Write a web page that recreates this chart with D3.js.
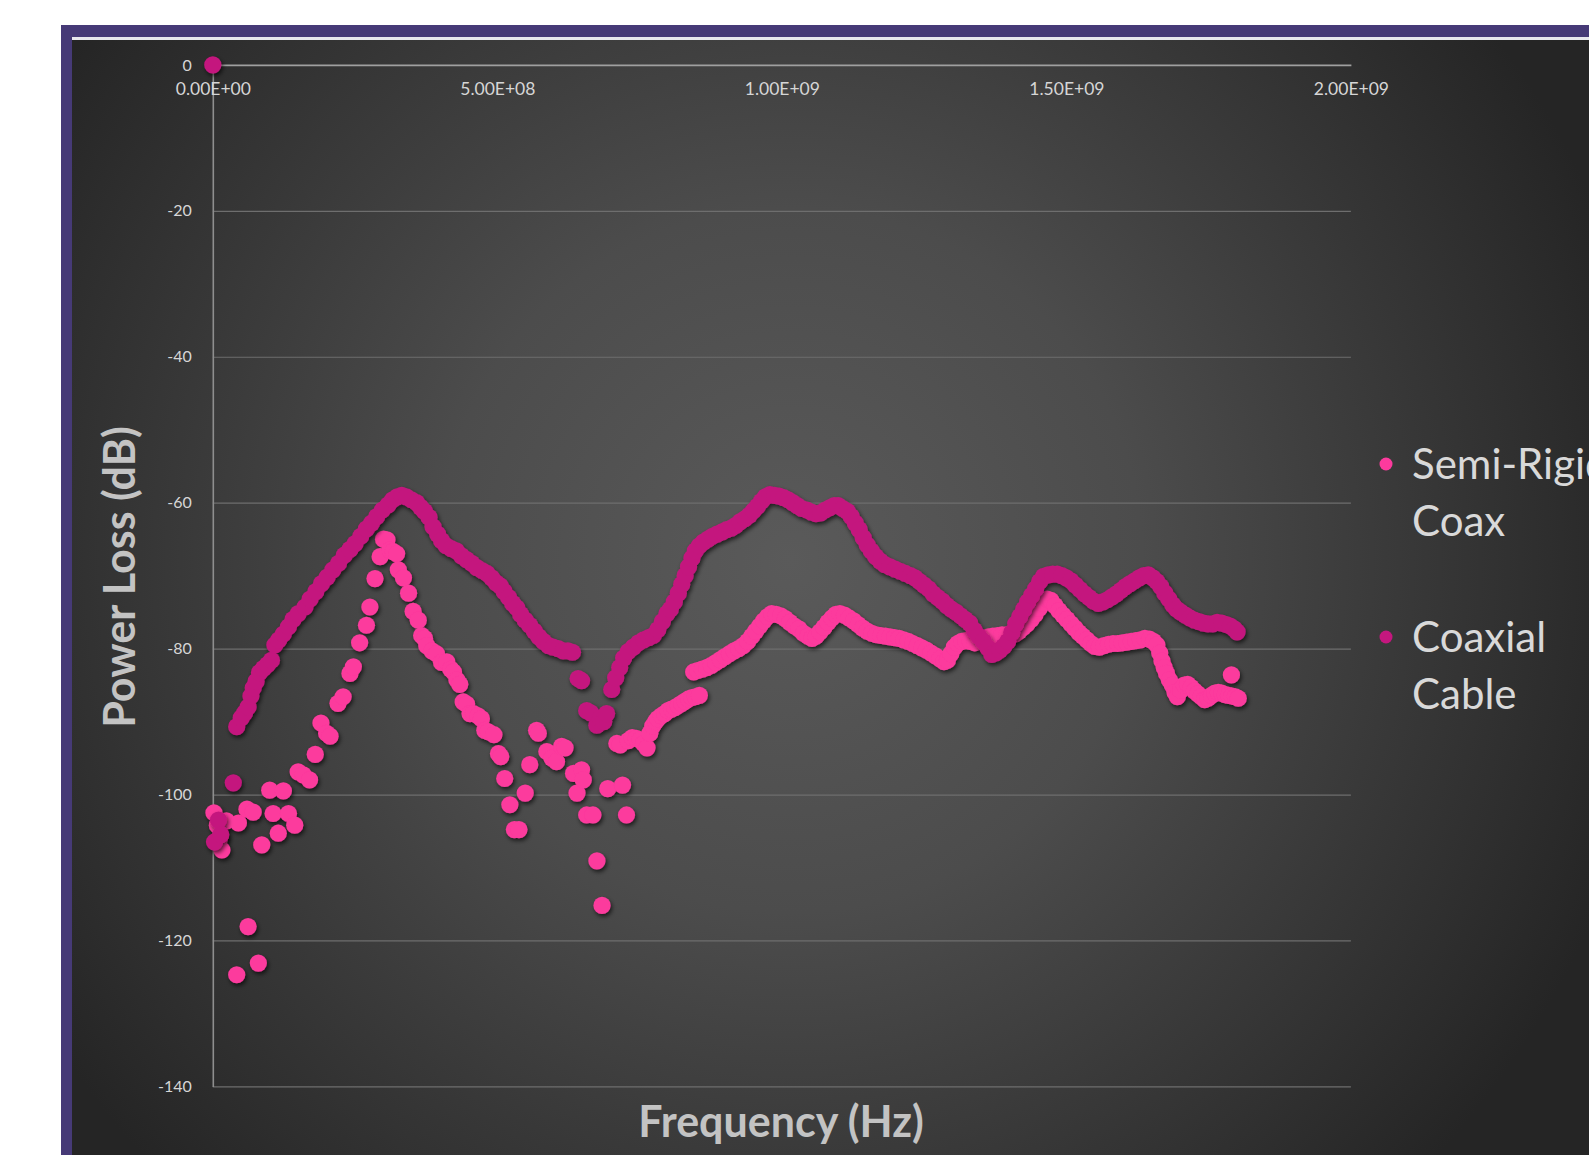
<!DOCTYPE html>
<html>
<head>
<meta charset="utf-8">
<script src="https://cdn.jsdelivr.net/npm/d3@7"></script>
<style>
  html, body { margin: 0; padding: 0; background: #ffffff; overflow: hidden; }
  svg { display: block; }
  .tick text { font-family: Lato, "Open Sans", sans-serif; }
</style>
</head>
<body>
<div id="chart"></div>
<script>
// Semi-Rigid Coax: [frequency MHz, power loss dB]
const semiRigid = [
  [2,-102.5],[8,-104.2],[12,-106],[16,-107.6],[24,-103.6],[45,-103.9],[60,-102.0],[71,-102.4],
  [42,-124.7],[62,-118.1],[80,-123.1],[86,-106.9],[100,-99.4],[106,-102.6],[115,-105.3],[124,-99.5],
  [133,-102.6],[144,-104.2],[150,-96.9],[159,-97.3],[170,-98.0],[180,-94.5],[190,-90.2],[200,-91.6],
  [206,-92.0],[220,-87.5],[229,-86.6],[241,-83.4],[247,-82.5],[258,-79.2],[270,-76.8],[276,-74.3],
  [285,-70.4],[294,-67.4],[300,-65.0],[306,-65.1],[311,-66.5],[317,-66.7],[323,-67.0],[326,-69.2],
  [335,-70.3],[344,-72.4],[352,-74.9],[361,-76.1],[367,-78.2],[372,-78.6],[376,-79.6],[385,-80.3],
  [393,-80.7],[402,-81.9],[411,-81.8],[418,-82.8],[423,-83.2],[429,-84.3],[434,-84.9],[440,-87.3],
  [446,-87.6],[452,-88.9],[458,-88.9],[466,-89.2],[472,-89.6],[478,-91.2],[484,-91.4],[494,-91.8],
  [502,-94.4],[506,-94.8],[513,-97.8],[522,-101.4],[530,-104.8],[538,-104.8],[549,-99.8],[557,-95.9],
  [569,-91.2],[572,-91.6],[587,-94.1],[596,-95.0],[604,-95.5],[613,-93.4],[619,-93.6],[634,-97.1],
  [640,-99.8],[648,-96.6],[651,-98.0],[657,-102.8],[668,-102.8],[675,-109.1],[684,-115.2],[694,-99.2],
  [710,-93.0],[716,-93.2],[720,-98.7],[727,-102.8],[730,-92.6],[737,-92.2],[744,-92.3],[751,-92.5],
  [757,-93.0],[763,-93.6],[768,-91.6],[773,-90.6],[778,-90.0],[782,-89.6],[788,-89.2],[794,-88.9],
  [800,-88.5],[806,-88.3],[812,-88.1],[818,-87.8],[824,-87.5],[830,-87.2],[836,-86.9],[842,-86.7],
  [848,-86.6],[855,-86.4],
  [845,-83.2],[852,-83.0],[860,-82.8],[868,-82.6],[876,-82.3],[884,-81.9],[892,-81.5],[900,-81.1],
  [908,-80.7],[916,-80.3],[924,-80.0],[932,-79.6],[940,-79.0],[947,-78.3],[954,-77.6],[961,-76.9],
  [968,-76.2],[975,-75.6],[982,-75.2],[990,-75.3],[998,-75.5],[1006,-75.9],[1014,-76.4],[1022,-76.9],
  [1030,-77.3],[1038,-77.9],[1046,-78.3],[1053,-78.6],[1060,-78.3],[1067,-77.7],[1074,-77.1],[1081,-76.4],
  [1088,-75.8],[1095,-75.3],[1102,-75.2],[1110,-75.4],[1118,-75.8],[1126,-76.2],[1134,-76.7],[1142,-77.2],
  [1150,-77.6],[1158,-77.9],[1166,-78.1],[1174,-78.2],[1182,-78.3],[1190,-78.4],[1198,-78.5],[1206,-78.6],
  [1214,-78.8],[1222,-79.0],[1230,-79.3],[1238,-79.6],[1246,-79.9],[1254,-80.2],[1262,-80.6],[1270,-81.0],
  [1278,-81.4],[1285,-81.8],[1291,-81.6],[1297,-80.7],[1303,-79.8],[1309,-79.3],[1316,-79.0],[1323,-78.9],
  [1331,-79.0],[1339,-79.2],[1347,-79.0],[1355,-78.7],[1363,-78.4],[1371,-78.3],[1379,-78.2],[1387,-78.1],
  [1395,-78.1],[1403,-78.2],[1410,-78.0],[1417,-77.6],[1424,-77.1],[1431,-76.6],[1438,-76.0],[1445,-75.3],
  [1452,-74.5],[1459,-73.8],[1466,-73.2],[1473,-73.4],[1480,-74.1],[1487,-74.8],[1494,-75.4],[1501,-76.0],
  [1508,-76.6],[1515,-77.2],[1522,-77.8],[1529,-78.3],[1536,-78.8],[1543,-79.3],[1550,-79.7],[1558,-79.8],
  [1566,-79.6],[1574,-79.4],[1582,-79.3],[1590,-79.3],[1598,-79.2],[1606,-79.1],[1614,-79.0],[1622,-78.9],
  [1630,-78.8],[1638,-78.6],[1646,-78.7],[1653,-79.0],[1659,-79.5],[1664,-80.6],[1668,-81.7],[1672,-82.6],
  [1676,-83.4],[1681,-84.3],[1686,-85.0],[1691,-86.0],[1695,-86.6],[1701,-85.7],[1707,-85.0],[1713,-84.9],
  [1719,-85.3],[1725,-85.8],[1731,-86.2],[1737,-86.6],[1743,-87.0],[1749,-86.8],[1755,-86.4],[1761,-86.1],
  [1767,-86.0],[1773,-86.1],[1779,-86.3],[1785,-86.4],[1791,-86.5],[1797,-86.6],[1802,-86.8],[1790,-83.6]
];

// Coaxial Cable: [frequency MHz, power loss dB]
const coaxial = [
  [0,0],[3,-106.5],[10,-103.5],[14,-105.5],[36,-98.4],
  [42,-90.7],[50,-89.5],[56,-88.8],[62,-88.0],[67,-86.5],[71,-85.4],[76,-84.5],[82,-83.3],
  [89,-82.7],[96,-82.2],[103,-81.6],[109,-79.5],[116,-78.8],[124,-78.0],[133,-77.0],[141,-76.0],
  [150,-75.2],[162,-74.3],[171,-73.2],[181,-72.2],[191,-71.1],[201,-70.2],[211,-69.2],[221,-68.3],
  [231,-67.2],[241,-66.4],[250,-65.6],[260,-64.6],[270,-63.6],[279,-62.8],[288,-61.9],[298,-61.0],
  [308,-60.3],[316,-59.6],[324,-59.2],[332,-59.0],[340,-59.2],[349,-59.6],[358,-60.0],[365,-60.6],
  [372,-61.2],[380,-62.0],[387,-63.3],[395,-64.3],[402,-65.2],[410,-65.9],[419,-66.3],[428,-66.6],
  [437,-67.3],[446,-67.8],[455,-68.3],[464,-68.9],[473,-69.3],[482,-69.7],[490,-70.3],[498,-71.0],
  [505,-71.4],[512,-72.2],[520,-73.0],[527,-73.8],[534,-74.4],[541,-75.3],[549,-76.1],[557,-76.8],
  [565,-77.6],[573,-78.4],[581,-79.0],[590,-79.6],[598,-79.8],[607,-80.0],[616,-80.3],[624,-80.3],
  [632,-80.5],[642,-84.1],[648,-84.4],[657,-88.5],[664,-88.8],[675,-90.5],[681,-89.6],[687,-90.0],
  [692,-88.9],[701,-85.6],[708,-84.0],[715,-82.6],[722,-81.3],[730,-80.4],[739,-79.8],[748,-79.2],
  [757,-78.8],[766,-78.5],[774,-78.2],[782,-77.4],[790,-76.3],[798,-75.2],[804,-74.6],[811,-73.6],
  [818,-72.4],[824,-71.2],[830,-70.0],[836,-68.8],[842,-67.6],[848,-66.6],[855,-65.9],[862,-65.4],
  [870,-65.0],[878,-64.6],[886,-64.3],[895,-64.0],[903,-63.7],[911,-63.5],[919,-63.1],[927,-62.6],
  [935,-62.2],[943,-61.7],[950,-61.1],[957,-60.5],[964,-59.8],[971,-59.2],[979,-58.9],[987,-59.0],
  [995,-59.1],[1003,-59.3],[1011,-59.6],[1019,-60.0],[1027,-60.4],[1035,-60.8],[1044,-61.0],[1052,-61.3],
  [1060,-61.5],[1068,-61.4],[1076,-61.0],[1084,-60.7],[1092,-60.4],[1099,-60.4],[1107,-60.8],[1115,-61.2],
  [1122,-61.9],[1129,-62.8],[1136,-63.7],[1143,-64.8],[1150,-65.8],[1157,-66.6],[1165,-67.4],[1173,-68.0],
  [1181,-68.5],[1190,-68.8],[1199,-69.1],[1208,-69.4],[1217,-69.7],[1226,-70.0],[1234,-70.3],[1242,-70.8],
  [1250,-71.3],[1258,-71.8],[1266,-72.5],[1274,-73.0],[1282,-73.5],[1290,-74.1],[1298,-74.6],[1306,-75.0],
  [1314,-75.5],[1322,-76.0],[1330,-76.5],[1338,-77.5],[1346,-78.3],[1354,-79.0],[1362,-79.9],[1369,-80.8],
  [1376,-80.6],[1383,-80.2],[1390,-79.7],[1397,-79.0],[1404,-77.8],[1411,-76.6],[1418,-75.6],[1425,-74.6],
  [1432,-73.6],[1439,-72.7],[1446,-71.8],[1453,-70.8],[1460,-70.1],[1468,-69.9],[1476,-69.8],[1484,-69.8],
  [1492,-70.0],[1500,-70.3],[1508,-70.7],[1516,-71.3],[1524,-71.9],[1532,-72.5],[1540,-73.0],[1548,-73.5],
  [1556,-73.8],[1564,-73.6],[1572,-73.3],[1580,-72.9],[1588,-72.5],[1596,-72.0],[1604,-71.5],[1612,-71.1],
  [1620,-70.7],[1628,-70.3],[1636,-70.0],[1644,-69.9],[1652,-70.3],[1659,-70.8],[1666,-71.5],[1673,-72.4],
  [1680,-73.2],[1687,-74.0],[1694,-74.6],[1701,-75.0],[1709,-75.4],[1717,-75.8],[1725,-76.1],[1733,-76.3],
  [1741,-76.5],[1749,-76.6],[1757,-76.6],[1765,-76.4],[1773,-76.5],[1781,-76.7],[1788,-76.9],[1795,-77.3],
  [1800,-77.7]
];

const xTicks = [0, 5e8, 1e9, 1.5e9, 2e9];
const xTickLabels = ['0.00E+00', '5.00E+08', '1.00E+09', '1.50E+09', '2.00E+09'];
const yTicks = [0, -20, -40, -60, -80, -100, -120, -140];
const seriesNames = [['Semi-Rigid', 'Coax'], ['Coaxial', 'Cable']];
const seriesColors = ['#fc3a9d', '#c4177e'];

const W = 1589, H = 1155;

const svg = d3.select('#chart').append('svg')
  .attr('width', W)
  .attr('height', H);

const defs = svg.append('defs');

const grad = defs.append('radialGradient')
  .attr('id', 'bg')
  .attr('gradientUnits', 'userSpaceOnUse')
  .attr('cx', 790).attr('cy', 560).attr('r', 880);
grad.append('stop').attr('offset', '0').attr('stop-color', '#5a5a5a');
grad.append('stop').attr('offset', '0.4').attr('stop-color', '#4c4c4c');
grad.append('stop').attr('offset', '1').attr('stop-color', '#252525');

const shadow = defs.append('filter')
  .attr('id', 'shadow')
  .attr('x', '-5%').attr('y', '-5%')
  .attr('width', '110%').attr('height', '110%');
shadow.append('feDropShadow')
  .attr('dx', 1.5).attr('dy', 2.5)
  .attr('stdDeviation', 2.2)
  .attr('flood-color', '#000')
  .attr('flood-opacity', 0.65);

// Frame and panel
svg.append('rect')
  .attr('x', 61).attr('y', 25)
  .attr('width', W - 61).attr('height', H - 25)
  .attr('fill', '#463a77');
svg.append('rect')
  .attr('x', 72).attr('y', 37)
  .attr('width', W - 72).attr('height', 3)
  .attr('fill', '#e8e8ee');
svg.append('rect')
  .attr('x', 72).attr('y', 40)
  .attr('width', W - 72).attr('height', H - 40)
  .attr('fill', 'url(#bg)');

// Scales
const x = d3.scaleLinear().domain([0, 2e9]).range([212.8, 1350.9]);
const y = d3.scaleLinear().domain([-140, 0]).range([1086.4, 64.9]);

// Gridlines
const grid = svg.append('g')
  .attr('transform', `translate(${x(0)},0)`)
  .call(d3.axisLeft(y).tickValues(yTicks.slice(1)).tickSize(-(x(2e9) - x(0))).tickFormat(''));
grid.select('.domain').remove();
grid.selectAll('.tick line').attr('stroke', '#6e6e6e').attr('stroke-width', 1.2);

// Y axis labels (plain hyphen as in the original)
const yAxis = svg.append('g')
  .attr('transform', `translate(${x(0)},0)`)
  .call(d3.axisLeft(y).tickValues(yTicks).tickSize(0).tickPadding(21)
    .tickFormat(d => String(d)));
yAxis.select('.domain').attr('stroke', '#8e8e8e').attr('stroke-width', 1.6);
yAxis.selectAll('.tick text')
  .attr('fill', '#d6d6d6')
  .style('font-size', '16px');

// X axis along the 0 dB line, labels underneath
const xAxis = svg.append('g')
  .attr('transform', `translate(0,${y(0)})`)
  .call(d3.axisBottom(x).tickValues(xTicks).tickSize(0).tickPadding(18)
    .tickFormat((d, i) => xTickLabels[i]));
xAxis.select('.domain').attr('stroke', '#a0a0a0').attr('stroke-width', 1.8);
xAxis.selectAll('.tick text')
  .attr('fill', '#d6d6d6')
  .style('font-size', '17.5px');

// Series
const allSeries = [semiRigid, coaxial];
allSeries.forEach((pts, i) => {
  svg.append('g')
    .attr('filter', 'url(#shadow)')
    .selectAll('circle')
    .data(pts)
    .enter()
    .append('circle')
    .attr('cx', d => x(d[0] * 1e6))
    .attr('cy', d => y(d[1]))
    .attr('r', 8.6)
    .attr('fill', seriesColors[i]);
});

// Axis titles
svg.append('text')
  .attr('transform', 'translate(135,577) rotate(-90)')
  .attr('text-anchor', 'middle')
  .attr('font-family', 'Lato, "Open Sans", sans-serif')
  .attr('font-weight', 'bold')
  .attr('font-size', 43)
  .attr('fill', '#c3c3c3')
  .text('Power Loss (dB)');

svg.append('text')
  .attr('x', 781).attr('y', 1137)
  .attr('text-anchor', 'middle')
  .attr('font-family', 'Lato, "Open Sans", sans-serif')
  .attr('font-weight', 'bold')
  .attr('font-size', 43)
  .attr('fill', '#c3c3c3')
  .text('Frequency (Hz)');

// Legend
const legendY = [464, 637];
seriesNames.forEach((lines, i) => {
  const g = svg.append('g').attr('transform', `translate(1386,${legendY[i]})`);
  g.append('circle').attr('r', 6.5).attr('fill', seriesColors[i]);
  lines.forEach((t, j) => {
    g.append('text')
      .attr('x', 26).attr('y', j * 57)
      .attr('dy', '0.35em')
      .attr('font-family', 'Lato, "Open Sans", sans-serif')
      .attr('font-size', 42)
      .attr('fill', '#d9d9d9')
      .text(t);
  });
});
</script>
</body>
</html>
